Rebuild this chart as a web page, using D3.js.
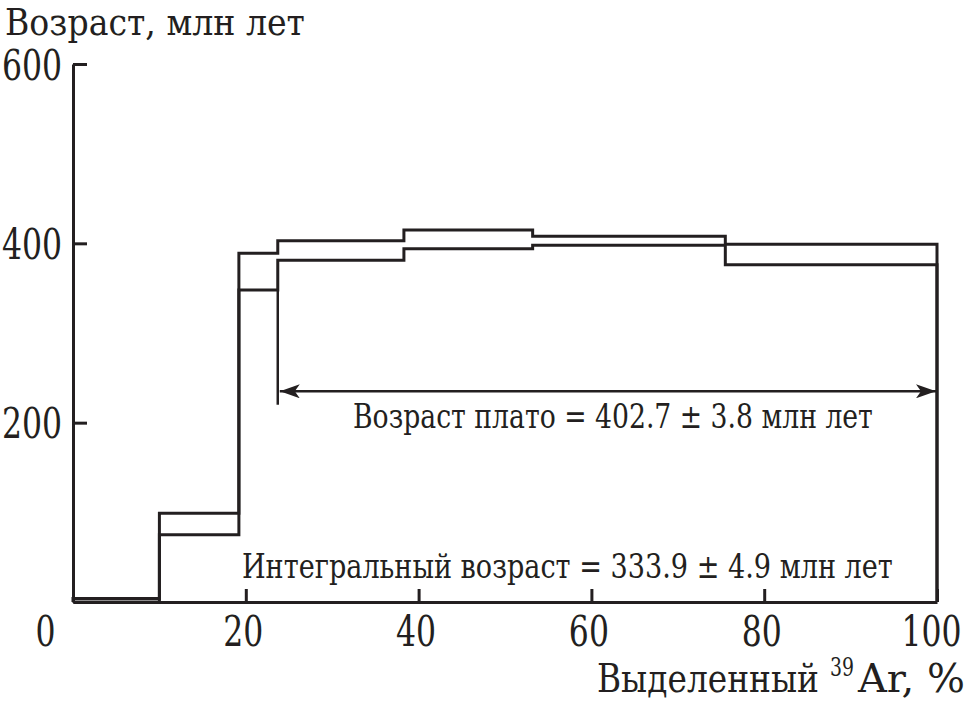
<!DOCTYPE html>
<html>
<head>
<meta charset="utf-8">
<script src="https://cdn.jsdelivr.net/npm/d3@7"></script>
<style>
  body { margin: 0; background: #fff; }
  text { font-family: "DejaVu Serif", serif; fill: #231f20; }
</style>
</head>
<body>
<div id="chart"></div>
<script>
// step boundaries, % of released 39Ar
const pctEdges = [0, 10.0, 19.2, 23.7, 38.3, 53.2, 75.5, 100];
// age of each step, upper and lower bound (Ma)
const ageHigh = [4, 99, 389, 403, 415, 408, 399];
const ageLow = [0, 75, 348, 381, 394, 398, 376];
const xTicks = [0, 20, 40, 60, 80, 100];
const yTicks = [200, 400, 600];
const plateauRange = [23.7, 100];
const plateauArrowAge = [235];
const plateauMarkAge = [220];

const W = 968, H = 703;
const ink = "#231f20";

const svg = d3.select("#chart").append("svg").attr("width", W).attr("height", H);

const x = d3.scaleLinear().domain([0, 100]).range([73, 937]);
const y = d3.scaleLinear().domain([0, 600]).range([602, 64]);

// narrow serif look: squeeze a text horizontally to a given width
function label(str, px, py, size, width) {
  const t = svg.append("text").attr("font-size", size).text(str);
  const s = width / t.node().getComputedTextLength();
  t.attr("transform", "translate(" + px + "," + py + ") scale(" + s + ",1)");
  return t;
}

// axes
const gy = svg.append("g").attr("transform", "translate(" + x(0) + ",0)")
  .call(d3.axisLeft(y).tickValues(yTicks).tickSize(-14).tickSizeOuter(0).tickPadding(11));
const gx = svg.append("g").attr("transform", "translate(0," + y(0) + ")")
  .call(d3.axisBottom(x).tickValues(xTicks).tickSize(-13).tickSizeOuter(0).tickPadding(14));

const sq = 0.75;
[gx, gy].forEach(g => {
  g.selectAll("path, line").attr("stroke", ink).attr("stroke-width", 3);
  g.selectAll("text").attr("font-size", 42).attr("fill", ink)
    .attr("font-family", "'DejaVu Serif', serif")
    .attr("transform", "scale(" + sq + ",1)");
});
gy.selectAll("text").attr("dy", "0.36em").attr("x", -11 / sq);
gx.selectAll("text").attr("dy", "0.72em").attr("x", -3 / sq);
gx.selectAll(".tick").filter(d => d === 0).select("text").attr("x", -28 / sq);
gx.selectAll(".tick").filter(d => d === 100).select("text").attr("x", -6 / sq);

// step spectrum: upper and lower outlines
function stepPoints(vals) {
  const pts = [[0, 0]];
  vals.forEach((v, i) => { pts.push([pctEdges[i], v]); pts.push([pctEdges[i + 1], v]); });
  pts.push([100, 0]);
  return pts;
}
const line = d3.line().x(d => x(d[0])).y(d => y(d[1]));
svg.selectAll(".step").data([ageHigh, ageLow]).enter().append("path")
  .attr("class", "step")
  .attr("d", d => line(stepPoints(d)))
  .attr("fill", "none").attr("stroke", ink).attr("stroke-width", 3)
  .attr("stroke-linejoin", "miter");

// plateau marker
svg.append("line")
  .attr("x1", x(plateauRange[0])).attr("x2", x(plateauRange[0]))
  .attr("y1", y(ageLow[2])).attr("y2", y(plateauMarkAge[0]))
  .attr("stroke", ink).attr("stroke-width", 2.5);

svg.append("defs").append("marker")
  .attr("id", "arr").attr("viewBox", "0 0 20 14").attr("refX", 20).attr("refY", 7)
  .attr("markerWidth", 20).attr("markerHeight", 14).attr("markerUnits", "userSpaceOnUse")
  .attr("orient", "auto-start-reverse")
  .append("path").attr("d", "M0,0 L20,7 L0,14 L5,7 Z").attr("fill", ink);

svg.append("line")
  .attr("x1", x(plateauRange[0]) + 2).attr("x2", x(plateauRange[1]) - 1)
  .attr("y1", y(plateauArrowAge[0])).attr("y2", y(plateauArrowAge[0]))
  .attr("stroke", ink).attr("stroke-width", 2.5)
  .attr("marker-start", "url(#arr)").attr("marker-end", "url(#arr)");

// annotations
label("Возраст плато = 402.7 ± 3.8 млн лет", 353, 428, 34, 520);
label("Интегральный возраст = 333.9 ± 4.9 млн лет", 242, 578, 34, 651);

// axis titles
label("Возраст, млн лет", 5, 35, 38, 300);
label("Выделенный", 597, 692, 40, 222);
label("39", 830, 676, 26, 24);
label("Ar, %", 858, 692, 40, 107);
</script>
</body>
</html>
